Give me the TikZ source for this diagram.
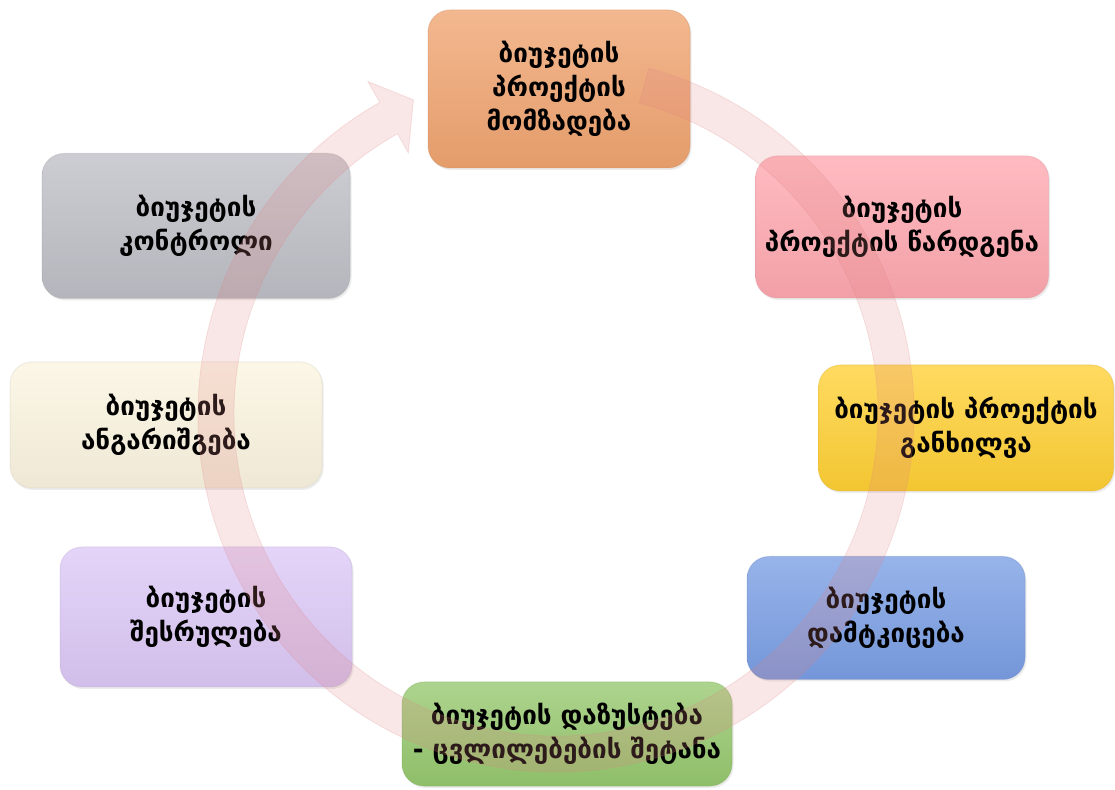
\documentclass[tikz,border=0pt]{standalone}
\usepackage{fontspec}
\setmainfont{DejaVu Sans}
\usetikzlibrary{shadows}
\definecolor{corange}{RGB}{240,164,112}
\definecolor{cpink}{RGB}{255,168,176}
\definecolor{cyellow}{RGB}{255,208,52}
\definecolor{cblue}{RGB}{122,158,228}
\definecolor{cgreen}{RGB}{150,200,110}
\definecolor{cpurple}{RGB}{220,200,246}
\definecolor{ccream}{RGB}{251,244,224}
\definecolor{cgrey}{RGB}{190,190,198}
\definecolor{ringc}{RGB}{225,130,130}
\begin{document}
\begin{tikzpicture}[x=1pt,y=1pt,
  stage/.style={rounded corners=22pt, inner sep=4pt, align=center,
    font=\bfseries\fontsize{26}{34}\selectfont, text=black,
    top color=#1!78!white, middle color=#1, bottom color=#1!95!black,
    draw=#1!85!black, draw opacity=0.3, line width=1pt,
    drop shadow={opacity=0.15, shadow xshift=1.5pt, shadow yshift=-2pt}}]
\useasboundingbox (0,0) rectangle (1115,789);
\fill[white] (0,0) rectangle (1115,789);

\node[stage=corange, minimum width=262, minimum height=158] (n1) at (559,700)
  {ბიუჯეტის\\პროექტის\\მომზადება};
\node[stage=cpink, minimum width=293, minimum height=142] (n2) at (902,562)
  {ბიუჯეტის\\პროექტის წარდგენა};
\node[stage=cyellow, minimum width=295, minimum height=126] (n3) at (966,361)
  {ბიუჯეტის პროექტის\\განხილვა};
\node[stage=cblue, minimum width=278, minimum height=123] (n4) at (886,171)
  {ბიუჯეტის\\დამტკიცება};
\node[stage=cgreen, minimum width=330, minimum height=104] (n5) at (567,55)
  {ბიუჯეტის დაზუსტება\\- ცვლილებების შეტანა};
\node[stage=cpurple, minimum width=292, minimum height=140] (n6) at (206,172)
  {ბიუჯეტის\\შესრულება};
\node[stage=ccream, minimum width=312, minimum height=126] (n7) at (166,364)
  {ბიუჯეტის\\ანგარიშგება};
\node[stage=cgrey, minimum width=308, minimum height=145] (n8) at (196,563)
  {ბიუჯეტის\\კონტროლი};

\coordinate (c) at (556,375);
\fill[ringc, fill opacity=0.2, draw=ringc, draw opacity=0.2, line width=0.8pt]
  ([shift={(c)}]75:358) arc[start angle=75, end angle=-240.5, radius=358]
  -- ([shift={(c)}]-240.5:382)
  -- ([shift={(c)}]-245.6:345)
  -- ([shift={(c)}]-240.5:300)
  -- ([shift={(c)}]-240.5:322)
  arc[start angle=-240.5, end angle=75, radius=322] -- cycle;
\end{tikzpicture}
\end{document}
